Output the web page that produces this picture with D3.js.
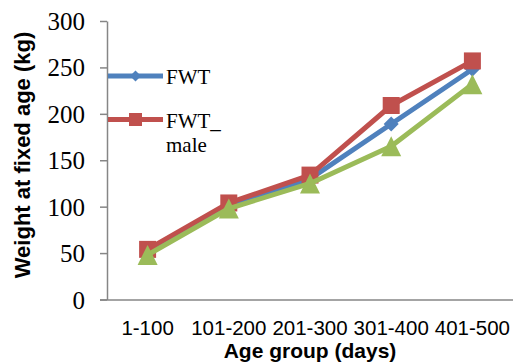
<!DOCTYPE html>
<html>
<head>
<meta charset="utf-8">
<script src="https://cdn.jsdelivr.net/npm/d3@7"></script>
<style>
  html, body { margin: 0; padding: 0; background: #fff; }
  svg { display: block; }
</style>
</head>
<body>
<svg id="chart" width="517" height="363"></svg>
<script>
// ---- data ----
const categories = ["1-100", "101-200", "201-300", "301-400", "401-500"];
const seriesNames = ["FWT", "FWT_male", "FWT_female"];
const fwt = [52, 100, 130, 189, 248];
const fwtMale = [54, 104, 134, 209, 257];
const fwtFemale = [48, 98, 125, 165, 232];
const yTicks = [0, 50, 100, 150, 200, 250, 300];
const legendNames = ["FWT", "FWT_male"];

const series = [
  { name: seriesNames[0], values: fwt, color: "#4F81BD", marker: "diamond" },
  { name: seriesNames[1], values: fwtMale, color: "#C0504D", marker: "square" },
  { name: seriesNames[2], values: fwtFemale, color: "#9BBB59", marker: "triangle" }
];

const svg = d3.select("#chart");
const plotLeft = 107, plotRight = 513, plotTop = 21, plotBottom = 299.5;

const x = d3.scaleBand().domain(categories).range([plotLeft, plotRight]).padding(0);
const y = d3.scaleLinear().domain([0, 300]).range([plotBottom, plotTop]);
const cx = c => x(c) + x.bandwidth() / 2;

// y axis
const yAxis = svg.append("g")
  .attr("transform", `translate(${plotLeft},0)`)
  .call(d3.axisLeft(y).tickValues(yTicks).tickSize(7).tickPadding(15).tickSizeOuter(0));
yAxis.select(".domain").attr("stroke", "#868686").attr("stroke-width", 1.5);
yAxis.selectAll(".tick line").attr("stroke", "#868686").attr("stroke-width", 1.5);
yAxis.selectAll(".tick text")
  .attr("font-family", "'Liberation Serif', 'Times New Roman', serif")
  .attr("font-size", 25).attr("fill", "#000").attr("dy", "0.34em");

// x axis
const xAxis = svg.append("g")
  .attr("transform", `translate(0,${plotBottom})`)
  .call(d3.axisBottom(x).tickSize(0).tickSizeOuter(0));
xAxis.select(".domain").attr("stroke", "#868686").attr("stroke-width", 1.5)
  .attr("d", `M${plotLeft - 7},0.5H${plotRight}`);
xAxis.selectAll(".tick text")
  .attr("font-family", "'Liberation Sans', Arial, sans-serif")
  .attr("font-size", 20.5).attr("fill", "#000")
  .attr("dy", null).attr("y", 35);

// axis titles
svg.append("text")
  .attr("x", 310).attr("y", 358)
  .attr("text-anchor", "middle")
  .attr("font-family", "'Liberation Sans', Arial, sans-serif")
  .attr("font-weight", "bold").attr("font-size", 21)
  .text("Age group (days)");

svg.append("text")
  .attr("transform", "translate(30,155) rotate(-90)")
  .attr("text-anchor", "middle")
  .attr("font-family", "'Liberation Sans', Arial, sans-serif")
  .attr("font-weight", "bold").attr("font-size", 22)
  .text("Weight at fixed age (kg)");

// markers
function markerPath(type, size) {
  if (type === "diamond") { const h = size / 2; return `M0,${-h}L${h},0L0,${h}L${-h},0Z`; }
  if (type === "square") { const h = size / 2; return `M${-h},${-h}H${h}V${h}H${-h}Z`; }
  if (type === "triangle") { const h = size / 2; return `M0,${-h}L${h},${h}L${-h},${h}Z`; }
}
const markerSize = { diamond: 15, square: 17, triangle: 20 };

const line = d3.line().x((d, i) => cx(categories[i])).y(d => y(d));

series.forEach(s => {
  const g = svg.append("g");
  g.append("path")
    .attr("d", line(s.values))
    .attr("fill", "none").attr("stroke", s.color)
    .attr("stroke-width", 5).attr("stroke-linejoin", "round");
  g.selectAll("path.m").data(s.values).enter().append("path")
    .attr("class", "m")
    .attr("transform", (d, i) => `translate(${cx(categories[i])},${y(d)})`)
    .attr("d", markerPath(s.marker, markerSize[s.marker]))
    .attr("fill", s.color);
});

// legend (partially visible, as in reference)
const legend = svg.append("g");
const legendY = [76, 119.5];
legendNames.forEach((name, i) => {
  const s = series.find(d => d.name === name);
  legend.append("line")
    .attr("x1", 108).attr("x2", 163).attr("y1", legendY[i]).attr("y2", legendY[i])
    .attr("stroke", s.color).attr("stroke-width", 5);
  legend.append("path")
    .attr("transform", `translate(135.5,${legendY[i]})`)
    .attr("d", markerPath(s.marker, s.marker === "diamond" ? 11 : 13))
    .attr("fill", s.color);
});
const lt = legend.append("g")
  .attr("font-family", "'Liberation Serif', 'Times New Roman', serif")
  .attr("font-size", 21).attr("fill", "#000");
lt.append("text").attr("x", 166).attr("y", 84).text("FWT");
lt.append("text").attr("x", 166).attr("y", 128).text("FWT_");
lt.append("text").attr("x", 166).attr("y", 152).text("male");
</script>
</body>
</html>
